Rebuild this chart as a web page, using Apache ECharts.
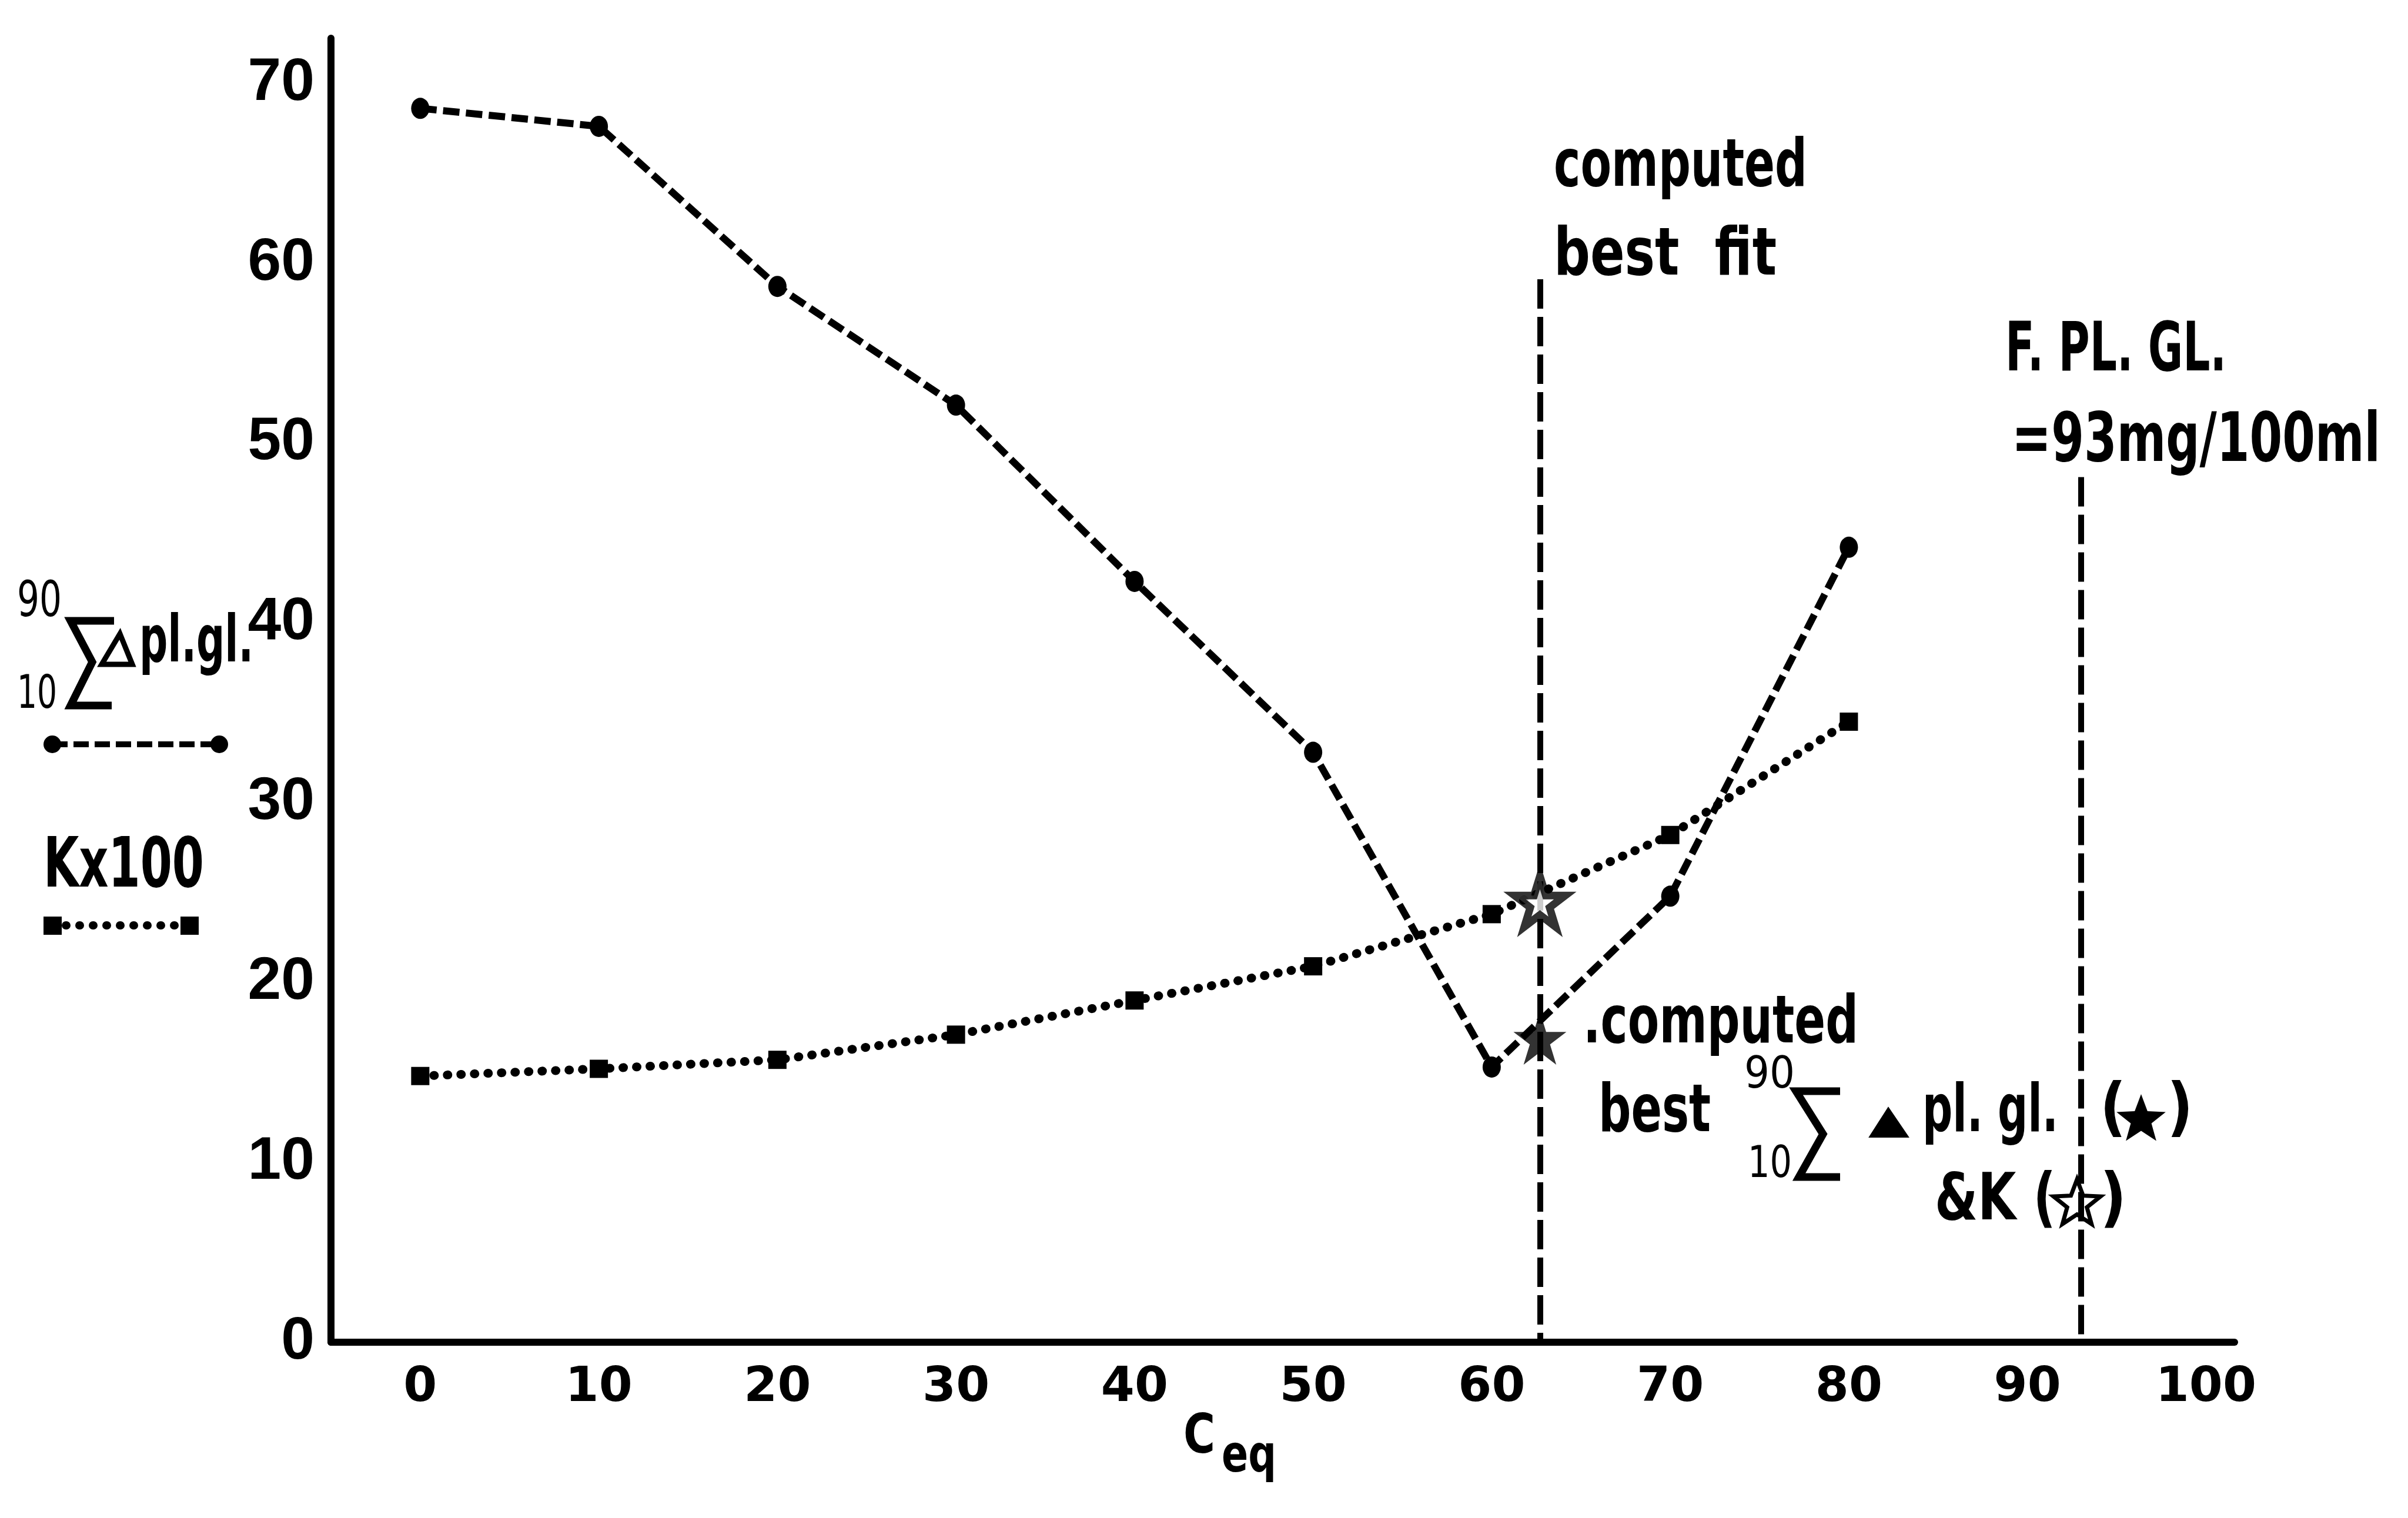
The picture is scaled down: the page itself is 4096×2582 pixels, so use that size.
<!DOCTYPE html>
<html>
<head>
<meta charset="utf-8">
<script src="https://cdn.jsdelivr.net/npm/echarts@6/dist/echarts.min.js"></script>
<style>
  html, body { margin: 0; padding: 0; background: #fff; }
  #chart { width: 4096px; height: 2582px; }
</style>
</head>
<body>
<div id="chart"></div>
<script>
// ---- data ----
const xValues = [0, 10, 20, 30, 40, 50, 60, 70, 80];
const sumDeltaPlGl = [68.6, 67.6, 58.7, 52.1, 42.3, 32.8, 15.3, 24.8, 44.2];
const kTimes100 = [14.8, 15.2, 15.7, 17.1, 19.0, 20.9, 23.8, 28.2, 34.5];
const xTickValues = [0, 10, 20, 30, 40, 50, 60, 70, 80, 90, 100];
const yTickValues = [0, 10, 20, 30, 40, 50, 60, 70];
const bestFitCeq = 62.7;
const bestFitLineTop = 59.1;
const fastingPlGl = 93;
const fastingLineTop = 48.1;
const bestSumValue = 16.9;
const bestKValue = 24.5;

const STAR = 'path://M50,0 L61.2,34.5 L97.6,34.5 L68.2,55.9 L79.4,90.5 L50,69.1 L20.6,90.5 L31.8,55.9 L2.4,34.5 L38.8,34.5 Z';

const mctx = document.createElement('canvas').getContext('2d');
function measure(text, font) { mctx.font = font; return mctx.measureText(text).width; }
const COND = '"DejaVu Sans Condensed", "DejaVu Sans", sans-serif';
const SANS = '"DejaVu Sans", sans-serif';
function T(text, left, baseline, size, targetW, family, weight) {
  family = family || COND; weight = weight || 'bold';
  const font = weight + ' ' + size + 'px ' + family;
  const w = measure(text, font);
  const sx = targetW ? targetW / w : 1;
  return {
    type: 'text', x: left, y: baseline - 0.35 * size, scaleX: sx, silent: true,
    style: { text: text, fontSize: size, fontFamily: family, fontWeight: weight,
             fill: '#000', align: 'left', verticalAlign: 'middle' }
  };
}
function poly(points, w, closed, fill) {
  return {
    type: closed ? 'polygon' : 'polyline', silent: true,
    shape: { points: points },
    style: { stroke: '#000', lineWidth: w, fill: fill || (closed ? 'none' : null), lineJoin: 'miter' }
  };
}
function starGlyph(cx, cy, R, filled) {
  const pts = [];
  for (let i = 0; i < 10; i++) {
    const a = -Math.PI / 2 + i * Math.PI / 5;
    const r = i % 2 === 0 ? R : R * 0.42;
    pts.push([cx + r * Math.cos(a), cy + r * Math.sin(a)]);
  }
  return {
    type: 'polygon', silent: true, shape: { points: pts },
    style: filled ? { fill: '#000' } : { fill: '#fff', stroke: '#000', lineWidth: 7, lineJoin: 'miter' }
  };
}

const graphics = [
  // annotations upper
  T('computed', 2643, 326, 112, 431),
  T('best  fit', 2643, 477, 112, 379),
  T('F. PL. GL.', 3411, 640, 115, 376),
  T('=93mg/100ml', 3422, 794, 115, 627),
  // annotation lower
  T('.computed', 2693, 1783, 112, 468),
  T('best', 2719, 1934, 112, 191),
  T('90', 2967, 1857, 75, 86, SANS, 'normal'),
  poly([[3130, 1856], [3055, 1856], [3101, 1929], [3060, 2002], [3130, 2002]], 13, false),
  T('10', 2973, 2009, 75, 75, SANS, 'normal'),
  poly([[3180, 1934], [3246, 1934], [3212, 1884]], 2, true, '#000'),
  T('pl. gl.', 3270, 1934, 112, 231),
  T('(', 3572, 1930, 108, null),
  starGlyph(3642, 1905, 44, true),
  T(')', 3686, 1930, 108, null),
  T('&K (', 3291, 2084, 110, 206),
  starGlyph(3533, 2048, 42, false),
  T(')', 3572, 2084, 110, null),
  // left legend
  T('90', 29, 1056, 84, 76, SANS, 'normal'),
  poly([[194, 1056], [120, 1056], [157, 1126], [120, 1200], [190, 1200]], 13, false),
  T('10', 29, 1211, 78, 68, SANS, 'normal'),
  poly([[173, 1130], [225, 1130], [204, 1078]], 9, true),
  T('pl.gl.', 237, 1135, 110, 194),
  { type: 'line', silent: true, shape: { x1: 89, y1: 1266, x2: 373, y2: 1266 },
    style: { stroke: '#000', lineWidth: 10, lineDash: [26, 10] } },
  { type: 'circle', silent: true, shape: { cx: 89, cy: 1266, r: 15 }, style: { fill: '#000' } },
  { type: 'circle', silent: true, shape: { cx: 373, cy: 1266, r: 15 }, style: { fill: '#000' } },
  T('Kx100', 74, 1519, 117, 273),
  { type: 'line', silent: true, shape: { x1: 89, y1: 1574, x2: 322, y2: 1574 },
    style: { stroke: '#000', lineWidth: 14, lineDash: [1, 22], lineCap: 'round' } },
  { type: 'rect', silent: true, shape: { x: 74, y: 1559, width: 31, height: 31 }, style: { fill: '#000' } },
  { type: 'rect', silent: true, shape: { x: 307, y: 1559, width: 31, height: 31 }, style: { fill: '#000' } },
  // x axis title
  T('C', 2013, 2479, 93, 54),
  T('eq', 2078, 2511, 88, 93)
];

const chart = echarts.init(document.getElementById('chart'), null, { renderer: 'canvas' });
chart.setOption({
  animation: false,
  backgroundColor: '#fff',
  grid: { left: 563, right: 295, top: 65, bottom: 299, containLabel: false },
  xAxis: {
    type: 'value', min: -5, max: 101.6,
    axisLine: { onZero: false, lineStyle: { color: '#000', width: 12 } },
    axisTick: { show: false },
    splitLine: { show: false },
    axisLabel: {
      customValues: xTickValues, margin: 38, color: '#000',
      fontFamily: SANS, fontWeight: 'bold', fontSize: 82
    }
  },
  yAxis: {
    type: 'value', min: 0, max: 72.5,
    axisLine: { show: true, onZero: false, lineStyle: { color: '#000', width: 12 } },
    axisTick: { show: false },
    splitLine: { show: false },
    axisLabel: {
      customValues: yTickValues, margin: 28, color: '#000',
      fontFamily: '"Liberation Sans", Arial, sans-serif', fontWeight: 'bold', fontSize: 102
    }
  },
  series: [
    {
      name: 'sum', type: 'line', silent: true,
      data: xValues.map((x, i) => [x, sumDeltaPlGl[i]]),
      symbol: 'circle', symbolSize: [31, 36],
      itemStyle: { color: '#000' },
      lineStyle: { color: '#000', width: 12, type: [28, 11] },
      markLine: {
        silent: true, symbol: ['none', 'none'], label: { show: false },
        lineStyle: { color: '#000', width: 10, type: [50, 14] },
        data: [
          [{ coord: [bestFitCeq, bestFitLineTop] }, { coord: [bestFitCeq, 0] }],
          [{ coord: [fastingPlGl, fastingLineTop] }, { coord: [fastingPlGl, 0] }]
        ]
      }
    },
    {
      name: 'K', type: 'line', silent: true,
      data: xValues.map((x, i) => [x, kTimes100[i]]),
      symbol: 'rect', symbolSize: 31,
      itemStyle: { color: '#000' },
      lineStyle: { color: '#000', width: 15, type: [1, 22], cap: 'round' }
    },
    {
      name: 'bestK', type: 'scatter', silent: true, z: 5,
      data: [[bestFitCeq, bestKValue]],
      symbol: STAR, symbolSize: 86,
      itemStyle: { color: '#fff', borderColor: '#000', borderWidth: 13 }
    },
    {
      name: 'bestSum', type: 'scatter', silent: true, z: 5,
      data: [[bestFitCeq, bestSumValue]],
      symbol: STAR, symbolSize: 90,
      itemStyle: { color: '#000' }
    }
  ],
  graphic: graphics
});
</script>
</body>
</html>
